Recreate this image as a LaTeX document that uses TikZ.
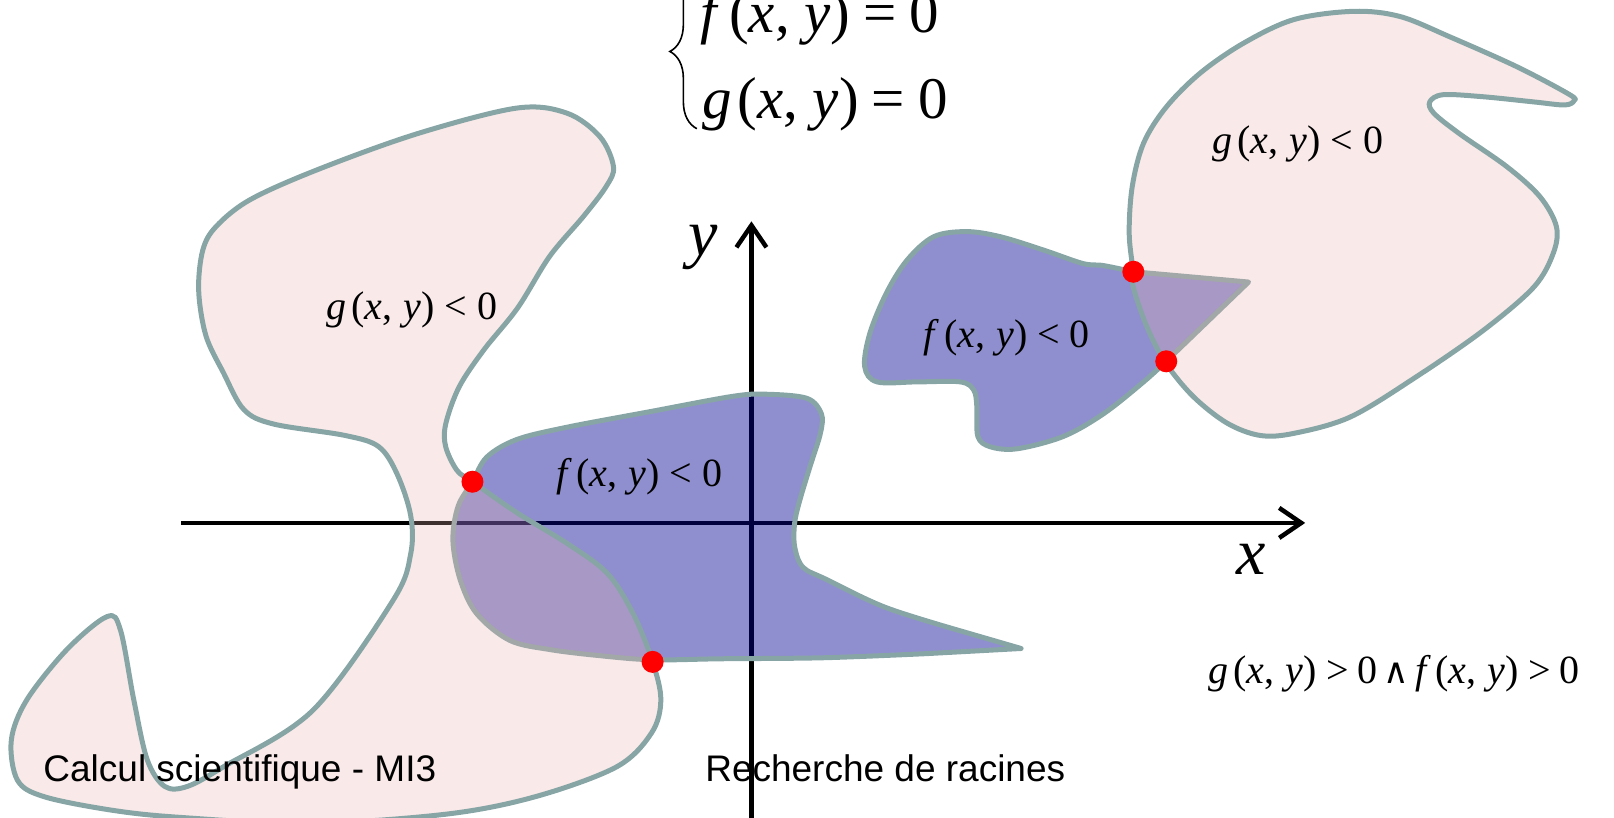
\documentclass[tikz,border=0pt]{standalone}
\usepackage{fontspec}
\setmainfont{Liberation Serif}
\setsansfont{Liberation Sans}
\newfontfamily\dejavu{DejaVu Serif}
\usetikzlibrary{arrows.meta,decorations.pathreplacing}

\definecolor{contour}{RGB}{136,165,166}
\definecolor{fbleu}{RGB}{0,0,145}
\definecolor{grose}{RGB}{233,175,175}

% f(x,y) ecrit en italique, espacement large
\newcommand{\fxy}[1]{\textit{#1}\hspace{.12em}(\textit{x},\hspace{.28em}\textit{y})}

\begin{document}
\begin{tikzpicture}[x=1.0293pt,y=-1.0293pt,
    regionf/.style={fill=fbleu,fill opacity=0.44,draw=contour,line width=5pt,line join=round},
    regiong/.style={fill=grose,fill opacity=0.275,draw=contour,line width=5pt,line join=round},
    axe/.style={line width=4.5pt,-{Straight Barb[length=22pt,width=30pt]}},
    racine/.style={fill=red},
    etiq/.style={anchor=base west,inner sep=0pt,font=\fontsize{40}{44}\selectfont},
    grand/.style={anchor=base west,inner sep=0pt,font=\fontsize{59}{66}\selectfont},
    pied/.style={anchor=base west,inner sep=0pt,font=\sffamily\fontsize{37}{40}\selectfont}]
    \useasboundingbox (0,0) rectangle (1568,794);

    % Axes
    \coordinate (xdeb) at (176,508);
    \coordinate (xfin) at (1268,508);
    \coordinate (ybas) at (730,800);
    \coordinate (yhaut) at (730,215);
    \draw[axe] (xdeb) -- (xfin);
    \draw[axe] (ybas) -- (yhaut);
    \node[font=\fontsize{66}{70}\selectfont\itshape] (lx) at (1215,543) {x};
    \node[font=\fontsize{66}{70}\selectfont\itshape] (ly) at (683,240) {y};

    % Regions f(x,y) < 0
    \draw[regionf] (992,630) -- plot[smooth,tension=0.55] coordinates {(900,635) (800,639) (700,640)
        (634,641) (583,637) (534,631) (495,622) (463,596) (447,563) (440,525) (445,492) (459,468)
        (473,444) (502,427) (551,415) (631,400) (712,385) (745,383) (784,387) (798,402) (797,421)
        (787,453) (777,486) (772,508) (772,531) (780,551) (803,563) (860,590) (930,612)} -- cycle;
    \draw[regionf] (1213,274) -- plot[smooth,tension=0.55] coordinates {(1133,351) (1111,371)
        (1072,402) (1033,424) (988,436) (962,434) (950,424) (949,395) (946,379) (933,371) (891,371)
        (852,371) (840,356) (845,324) (861,285) (881,253) (907,230) (939,225) (972,230) (1014,243)
        (1052,256) (1072,258) (1101,264)} -- cycle;

    % Regions g(x,y) < 0
    \draw[regiong] plot[smooth cycle,tension=0.55] coordinates {(502,105) (551,110) (583,133)
        (596,162) (589,181) (567,210) (534,249) (503,299) (470,340) (446,376) (433,412) (433,434)
        (444,457) (459,468) (502,498) (551,528) (590,557) (615,596) (634,643) (642,680) (633,712)
        (599,745) (520,774) (433,791) (300,800) (174,794) (108,787) (43,774) (17,758) (11,719)
        (26,680) (65,631) (104,599) (117,612) (130,680) (143,738) (160,764) (182,764) (217,745)
        (304,690) (382,583) (399,538) (399,501) (386,461) (368,434) (335,423) (266,412) (237,398)
        (217,362) (200,326) (193,282) (197,243) (210,220) (243,194) (308,165) (405,130)};
    \draw[regiong] plot[smooth cycle,tension=0.55] coordinates {(1101,265) (1097,227) (1100,181)
        (1111,139) (1133,104) (1166,71) (1208,42) (1257,19) (1315,11) (1360,16) (1409,36) (1474,65)
        (1525,92) (1529,98) (1520,102) (1490,99) (1441,94) (1402,92) (1389,99) (1393,110) (1418,130)
        (1464,162) (1496,191) (1512,220) (1509,246) (1490,279) (1441,321) (1376,366) (1312,405)
        (1257,421) (1224,423) (1192,411) (1159,385) (1132,352) (1114,317) (1101,279)};

    % Racines
    \fill[racine] (459,468) circle[radius=10.7];
    \fill[racine] (634,643) circle[radius=10.7];
    \fill[racine] (1101,264) circle[radius=10.7];
    \fill[racine] (1133,351) circle[radius=10.7];

    % Systeme
    \draw[decorate,decoration={brace,amplitude=27pt},line width=1.6pt] (677,125) -- (677,-25);
    \node[grand] (eqf) at (680,32) {\textit{f}\hspace{.1em}(\textit{x},\hspace{.25em}\textit{y})\hspace{.22em}=\hspace{.22em}0};
    \node[grand] (eqg) at (682,115) {\textit{g}\hspace{.1em}(\textit{x},\hspace{.25em}\textit{y})\hspace{.22em}=\hspace{.22em}0};

    % Etiquettes
    \node[etiq] (g1) at (317,310) {\fxy{g}\hspace{.25em}<\hspace{.25em}0};
    \node[etiq] (f1) at (540,473) {\fxy{f}\hspace{.25em}<\hspace{.25em}0};
    \node[etiq] (f2) at (897,338) {\fxy{f}\hspace{.25em}<\hspace{.25em}0};
    \node[etiq] (g2) at (1178,149) {\fxy{g}\hspace{.25em}<\hspace{.25em}0};
    \node[etiq] (gf) at (1174,664) {\fxy{g}\hspace{.25em}>\hspace{.2em}0\hspace{.15em}{\dejavu\fontsize{35}{36}\selectfont ∧}\hspace{.15em}\fxy{f}\hspace{.25em}>\hspace{.2em}0};

    \node[pied] (cours) at (42,759.5) {Calcul scientifique - MI3};
    \node[pied] (titre) at (685,759.5) {Recherche de racines};
\end{tikzpicture}
\end{document}
